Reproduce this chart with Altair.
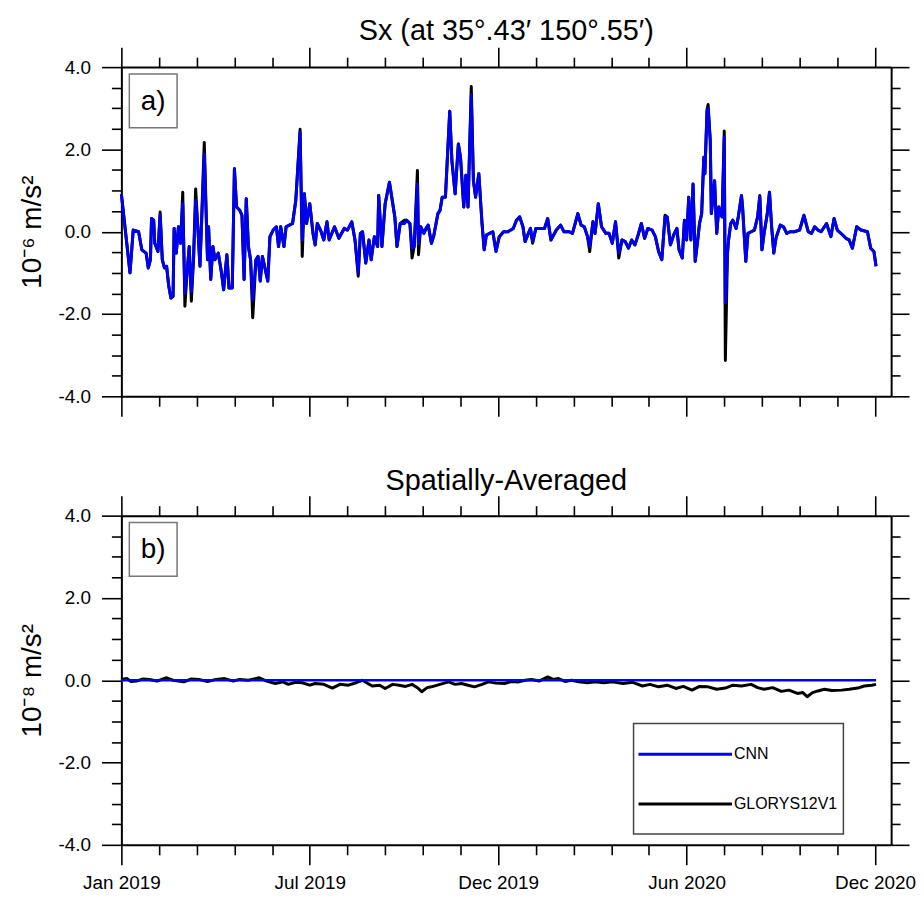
import altair as alt
import pandas as pd

# ---------------- data ----------------
# panel a: days since 1 Jan 2019
days_a = [0, 2, 4, 8, 11, 16, 19, 23, 25, 27, 28, 30, 31, 34, 36, 38, 40, 42, 44, 46,
          48, 49, 51, 53, 55, 57, 59, 61, 63, 65, 67, 69, 71, 73, 77, 80, 81, 83, 85, 87,
          90, 93, 95, 98, 100, 103, 105, 107, 110, 112, 114, 116, 118, 120, 122, 125, 127, 129, 131, 133,
          136, 138, 141, 144, 146, 148, 151, 153, 156, 159, 162, 166, 168, 170, 172, 175, 178, 180, 182, 185,
          188, 191, 193, 198, 202, 207, 210, 214, 217, 220, 222, 224, 227, 230, 232, 235, 238, 239, 242, 245,
          249, 254, 256, 259, 263, 265, 268, 270, 272, 275, 276, 278, 281, 283, 285, 288, 290, 294, 296, 298,
          301, 303, 305, 307, 310, 313, 315, 318, 320, 322, 323, 325, 327, 329, 332, 335, 337, 339, 342, 345,
          348, 351, 355, 359, 364, 367, 370, 373, 375, 378, 380, 382, 385, 390, 393, 396, 399, 404, 408, 411,
          416, 419, 424, 427, 430, 433, 435, 438, 440, 443, 446, 450, 453, 456, 459, 462, 465, 468, 471, 474,
          477, 480, 483, 486, 489, 493, 496, 499, 502, 505, 507, 510, 513, 516, 518, 521, 523, 525, 527, 529,
          531, 533, 535, 537, 539, 541, 542, 544, 545, 547, 548, 551, 553, 555, 556, 558, 560, 561, 563, 564,
          566, 568, 571, 573, 576, 577, 580, 582, 585, 588, 591, 593, 595, 597, 600, 602, 604, 606, 608, 612,
          615, 618, 621, 625, 630, 634, 638, 641, 644, 647, 650, 655, 659, 662, 665, 670, 673, 676, 679, 683,
          687, 693, 696, 699, 701]
cnn_a = [0.92, 0.44, -0.04, -1.00, 0.04, 0.00, -0.44, -0.52, -0.88, -0.68, 0.32, 0.28, -0.28, -0.48, 0.40, -0.68, -0.88, -0.84, -1.32, -1.61,
         -1.57, 0.08, -0.52, 0.12, -0.28, 0.68, -1.49, -1.00, -0.36, -1.45, -0.68, 0.76, 0.12, -0.84, 1.89, -0.68, 0.12, -1.16, -0.36, -0.68,
         -0.52, -1.00, -1.41, -0.56, -1.37, -1.37, 1.53, 0.60, 0.52, 0.40, -1.16, 0.80, -0.36, -0.68, -1.65, -0.68, -0.60, -1.20, -0.60, -0.84,
         -1.20, -0.12, 0.04, 0.12, -0.36, 0.12, -0.36, 0.12, 0.16, 0.20, 0.76, 2.41, -0.20, 0.92, 0.20, 0.68, -0.04, -0.32, 0.20, 0.04,
         -0.20, 0.24, -0.20, 0.12, -0.16, 0.08, 0.04, 0.24, -0.20, -1.00, -0.04, 0.00, -0.76, -0.20, -0.68, -0.12, -0.36, 0.88, -0.36, 0.68,
         1.20, 0.36, -0.36, 0.20, 0.20, 0.28, 0.20, -0.40, -0.36, 1.16, -0.30, 0.12, -0.04, 0.08, 0.16, -0.28, -0.12, 0.44, 0.52, 0.84,
         0.84, 1.89, 2.93, 1.73, 0.92, 2.13, 1.81, 0.60, 1.37, 0.60, 1.57, 3.33, 1.24, 0.84, 1.41, 0.20, -0.44, -0.08, -0.04, 0.00,
         -0.48, -0.12, 0.00, 0.00, 0.08, 0.28, 0.36, 0.12, -0.24, -0.04, 0.08, -0.24, 0.08, 0.08, 0.08, 0.32, -0.20, 0.04, 0.16, 0.00,
         0.00, -0.04, 0.44, 0.16, 0.12, -0.12, -0.36, 0.24, -0.04, 0.68, 0.12, -0.04, -0.04, -0.28, 0.24, -0.52, -0.20, -0.24, -0.40, -0.20,
         -0.32, -0.08, 0.20, -0.16, 0.08, 0.04, -0.12, -0.48, -0.68, 0.36, 0.36, -0.32, -0.08, 0.08, -0.44, -0.64, 0.28, -0.20, 0.84, -0.20,
         1.16, -0.72, -0.28, 0.20, 0.44, 1.81, 1.41, 2.93, 3.00, 2.21, 0.44, 1.24, -0.04, 0.60, 0.44, 0.36, 2.29, -1.73, -0.52, -0.20,
         0.20, 0.28, 0.08, 0.36, 0.88, 0.60, -0.72, -0.04, 0.00, 0.04, 0.36, 0.85, -0.44, -0.04, 0.44, 0.96, 0.12, -0.52, -0.16, 0.16,
         0.12, -0.04, 0.00, 0.00, 0.04, 0.40, 0.00, -0.04, 0.12, 0.04, 0.00, 0.20, -0.12, 0.32, 0.04, -0.08, -0.16, -0.20, -0.40, 0.12,
         0.04, 0.00, -0.40, -0.48, -0.84]
glorys_a = [0.92, 0.44, -0.04, -1.00, 0.04, 0.00, -0.44, -0.52, -0.88, -0.68, 0.32, 0.28, -0.28, -0.48, 0.48, -0.68, -0.88, -0.84, -1.32, -1.61,
            -1.57, 0.08, -0.52, 0.12, -0.28, 0.96, -1.81, -1.00, -0.36, -1.69, -0.68, 1.04, 0.12, -0.84, 2.17, -0.68, 0.12, -1.16, -0.36, -0.68,
            -0.52, -1.00, -1.41, -0.56, -1.37, -1.37, 1.53, 0.60, 0.52, 0.40, -1.16, 0.80, -0.36, -0.68, -2.09, -0.68, -0.60, -1.20, -0.60, -0.84,
            -1.20, -0.12, 0.04, 0.12, -0.36, 0.12, -0.36, 0.12, 0.16, 0.20, 0.76, 2.49, -0.60, 0.92, 0.20, 0.68, -0.04, -0.32, 0.20, 0.04,
            -0.20, 0.24, -0.20, 0.12, -0.16, 0.08, 0.04, 0.24, -0.20, -1.08, -0.04, 0.00, -0.76, -0.20, -0.68, -0.12, -0.36, 0.88, -0.36, 0.68,
            1.20, 0.36, -0.36, 0.20, 0.28, 0.28, 0.20, -0.64, -0.36, 1.49, -0.56, 0.12, -0.04, 0.08, 0.16, -0.28, -0.12, 0.44, 0.52, 0.84,
            0.84, 1.89, 2.93, 1.73, 0.92, 2.13, 1.81, 0.60, 1.37, 0.60, 1.57, 3.53, 1.24, 0.84, 1.41, 0.20, -0.44, -0.08, -0.04, 0.00,
            -0.48, -0.12, 0.00, 0.00, 0.08, 0.28, 0.36, 0.12, -0.24, -0.04, 0.08, -0.28, 0.08, 0.08, 0.08, 0.32, -0.20, 0.04, 0.16, 0.00,
            0.00, -0.04, 0.44, 0.16, 0.12, -0.12, -0.48, 0.24, -0.04, 0.68, 0.12, -0.04, -0.04, -0.28, 0.24, -0.64, -0.20, -0.24, -0.40, -0.20,
            -0.32, -0.08, 0.20, -0.16, 0.08, 0.04, -0.12, -0.48, -0.68, 0.40, 0.36, -0.32, -0.08, 0.08, -0.44, -0.64, 0.28, -0.20, 0.84, -0.20,
            1.16, -0.72, -0.28, 0.20, 0.44, 1.81, 1.41, 2.97, 3.09, 2.21, 0.44, 1.24, -0.04, 0.60, 0.44, 0.36, 2.45, -3.13, -0.52, -0.20,
            0.20, 0.28, 0.08, 0.36, 0.88, 0.60, -0.72, -0.04, 0.00, 0.04, 0.36, 0.88, -0.44, -0.04, 0.44, 0.96, 0.12, -0.52, -0.16, 0.16,
            0.12, -0.04, 0.00, 0.00, 0.04, 0.40, 0.00, -0.04, 0.12, 0.04, 0.00, 0.20, -0.12, 0.32, 0.04, -0.08, -0.16, -0.20, -0.40, 0.12,
            0.04, 0.00, -0.40, -0.48, -0.84]

# panel b: spatially averaged
days_b = [0, 5, 9, 14, 20, 26, 33, 42, 48, 58, 65, 72, 80, 88, 96, 104, 110, 118, 128, 135,
          143, 150, 155, 162, 168, 175, 180, 188, 196, 203, 211, 218, 224, 229, 233, 240, 245, 252, 258, 264,
          270, 275, 279, 284, 288, 296, 304, 310, 316, 322, 328, 335, 341, 348, 356, 362, 369, 375, 381, 388,
          396, 401, 406, 412, 418, 425, 433, 440, 448, 456, 466, 475, 484, 491, 499, 507, 515, 522, 530, 537,
          545, 553, 561, 568, 576, 585, 591, 597, 605, 613, 620, 628, 633, 637, 642, 647, 653, 660, 669, 676,
          684, 690, 697, 701]
glorys_b = [0.02, 0.04, -0.03, -0.02, 0.03, 0.02, -0.02, 0.06, 0.00, -0.04, 0.03, 0.02, -0.03, 0.02, 0.04, -0.02, 0.02, 0.00, 0.06, -0.02,
            -0.08, -0.04, -0.10, -0.05, -0.06, -0.12, -0.08, -0.10, -0.19, -0.10, -0.12, -0.06, 0.00, -0.08, -0.14, -0.12, -0.20, -0.10, -0.12, -0.15,
            -0.10, -0.18, -0.28, -0.18, -0.16, -0.10, -0.04, -0.10, -0.08, -0.12, -0.16, -0.10, -0.04, -0.07, -0.08, -0.03, -0.04, 0.00, 0.02, -0.02,
            0.08, 0.02, 0.04, -0.03, 0.00, -0.04, -0.06, -0.04, -0.06, -0.04, -0.08, -0.05, -0.14, -0.10, -0.16, -0.12, -0.20, -0.15, -0.24, -0.15,
            -0.16, -0.22, -0.19, -0.12, -0.14, -0.10, -0.18, -0.22, -0.18, -0.27, -0.24, -0.32, -0.30, -0.40, -0.30, -0.26, -0.22, -0.25, -0.24, -0.22,
            -0.19, -0.14, -0.12, -0.10]
days_b_cnn = [0, 701]
cnn_b = [0.0, 0.0]

series_names = ["CNN", "GLORYS12V1"]
series_colors = ["#0000f0", "#000000"]

x_major = [0, 175, 350, 525, 700]
x_major_labels = ["Jan 2019", "Jul 2019", "Dec 2019", "Jun 2020", "Dec 2020"]
x_minor = [35, 70, 105, 140, 210, 245, 280, 315, 385, 420, 455, 490, 560, 595, 630, 665]
y_major = [-4, -2, 0, 2, 4]
y_minor = [-3.5, -3, -2.5, -1.5, -1, -0.5, 0.5, 1, 1.5, 2.5, 3, 3.5]
x_domain = [0, 715]
y_domain = [-4, 4]

# ---------------- styling ----------------
FONT = "Liberation Sans"
W, H = 774, 331
TMAJ, TMIN = 20, 10
RMAJ, RMIN = 18, 9

x_label_expr = "".join(f"datum.value == {v} ? '{t}' : " for v, t in zip(x_major, x_major_labels)) + "''"
y_label_expr = "replace(format(datum.value, '.1f'), '\u2212', '-')"


def x_axis(orient, values, size, labels=False, domain=False):
    kw = dict(orient=orient, values=values, tickSize=size, labels=labels, domain=domain,
              grid=False, title=None, tickColor="black", tickWidth=1.6)
    if domain:
        kw.update(domainColor="black", domainWidth=2)
    if labels:
        kw.update(labelExpr=x_label_expr, labelFontSize=19, labelPadding=9, labelFlush=False,
                  labelOverlap=False, labelColor="black", labelFont=FONT)
    return alt.Axis(**kw)


def y_axis(orient, values, size, labels=False, title=None, domain=False):
    kw = dict(orient=orient, values=values, tickSize=size, labels=labels, domain=domain,
              grid=False, tickColor="black", tickWidth=1.6)
    if domain:
        kw.update(domainColor="black", domainWidth=2)
    if labels:
        kw.update(labelExpr=y_label_expr, labelFontSize=19, labelPadding=11, labelFlush=False,
                  labelOverlap=False, labelColor="black", labelFont=FONT)
    if title:
        kw.update(title=title, titleFontSize=28, titleFont=FONT, titleFontWeight="normal",
                  titleColor="black", titlePadding=12)
    else:
        kw.update(title=None)
    return alt.Axis(**kw)


def panel(days_black, vals_black, days_blue, vals_blue, ytitle, tag, title, title_offset,
          show_xlabels, with_legend, lw_black, lw_blue):
    df_black = pd.DataFrame({"day": days_black, "value": vals_black})
    df_blue = pd.DataFrame({"day": days_blue, "value": vals_blue})
    xs = alt.Scale(domain=x_domain, nice=False, zero=False)
    ys = alt.Scale(domain=y_domain, nice=False, zero=False)

    l_black = alt.Chart(df_black).mark_line(
        color=series_colors[1], strokeWidth=lw_black, strokeJoin="round").encode(
        x=alt.X("day:Q", scale=xs, axis=x_axis("bottom", x_major, TMAJ, labels=show_xlabels, domain=True)),
        y=alt.Y("value:Q", scale=ys, axis=y_axis("left", y_major, TMAJ, labels=True, title=ytitle, domain=True)))
    l_blue = alt.Chart(df_blue).mark_line(
        color=series_colors[0], strokeWidth=lw_blue, strokeJoin="round").encode(
        x=alt.X("day:Q", scale=xs, axis=x_axis("bottom", x_minor, TMIN)),
        y=alt.Y("value:Q", scale=ys, axis=y_axis("left", y_minor, TMIN)))
    l_ax3 = alt.Chart(df_black).mark_point(opacity=0, size=1).encode(
        x=alt.X("day:Q", scale=xs, axis=x_axis("top", x_major, TMAJ, domain=True)),
        y=alt.Y("value:Q", scale=ys, axis=y_axis("right", y_major, RMAJ, domain=True)))
    l_ax4 = alt.Chart(df_black).mark_point(opacity=0, size=1).encode(
        x=alt.X("day:Q", scale=xs, axis=x_axis("top", x_minor, TMIN)),
        y=alt.Y("value:Q", scale=ys, axis=y_axis("right", y_minor, RMIN)))

    one = pd.DataFrame({"tag": [tag]})
    box = alt.Chart(one).mark_rect(fill="white", stroke="#777777", strokeWidth=1.5).encode(
        x=alt.value(8), x2=alt.value(56), y=alt.value(7), y2=alt.value(61))
    box_text = alt.Chart(one).mark_text(font=FONT, fontSize=28, align="center",
                                        baseline="middle", color="black").encode(
        x=alt.value(32), y=alt.value(35), text="tag:N")

    layers = [l_black, l_blue, l_ax3, l_ax4, box, box_text]

    if with_legend:
        leg_df = pd.DataFrame({"series": series_names, "color": series_colors})
        layers.append(alt.Chart(one).mark_rect(fill="white", stroke="#444444", strokeWidth=1.5).encode(
            x=alt.value(515), x2=alt.value(726), y=alt.value(209), y2=alt.value(320)))
        for name, col, ypos in zip(series_names, series_colors, [240, 290]):
            item = alt.Chart(leg_df).transform_filter(alt.datum.series == name)
            layers.append(item.mark_rule(color=col, strokeWidth=3).encode(
                x=alt.value(520), x2=alt.value(614), y=alt.value(ypos)))
            layers.append(item.mark_text(font=FONT, fontSize=16, align="left",
                                         baseline="middle", color="black").encode(
                x=alt.value(616), y=alt.value(ypos), text="series:N"))

    return alt.layer(*layers).resolve_axis(x="independent", y="independent").properties(
        width=W, height=H,
        title=alt.TitleParams(text=title, fontSize=29, font=FONT, fontWeight="normal",
                              color="black", anchor="middle", offset=title_offset))


pa = panel(days_a, glorys_a, days_a, cnn_a, "10\u207b\u2076 m/s\u00b2", "a)",
           "Sx (at 35\u00b0.43\u2032 150\u00b0.55\u2032)", 0, False, False, 3, 3)
pb = panel(days_b, glorys_b, days_b_cnn, cnn_b, "10\u207b\u2078 m/s\u00b2", "b)",
           "Spatially-Averaged", -1, True, True, 3, 2.5)

chart = alt.vconcat(pa, pb, spacing=48).properties(
    padding={"left": 9, "top": 6, "right": 0, "bottom": 0}
).configure_view(strokeWidth=0).configure(font=FONT)

chart.save("out.html", embed_options={"renderer": "svg", "actions": False})
